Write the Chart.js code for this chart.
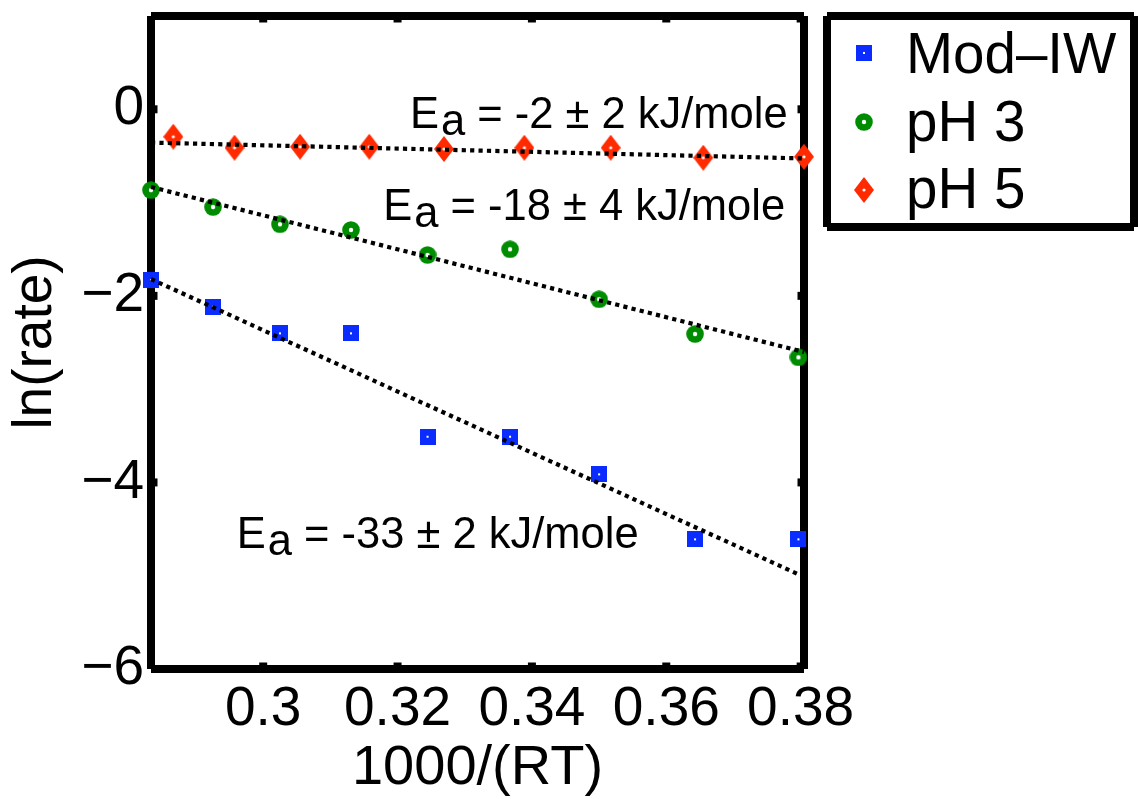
<!DOCTYPE html>
<html>
<head>
<meta charset="utf-8">
<title>ln(rate) vs 1000/(RT)</title>
<script src="https://cdn.jsdelivr.net/npm/chart.js@4/dist/chart.umd.min.js"></script>
<style>
  html, body { margin: 0; padding: 0; background: #ffffff; }
  canvas { display: block; }
</style>
</head>
<body>
<canvas id="chart" width="1138" height="799"></canvas>
<script>
// ---- data ---------------------------------------------------------------
const seriesNames = ['Mod\u2013IW', 'pH 3', 'pH 5'];

// 1000/(RT) for the Mod-IW and pH 3 runs (same temperatures)
const sharedX = [0.2833, 0.29253, 0.30250, 0.31307, 0.32446, 0.33674, 0.35000, 0.36428, 0.37967];
const modIwY  = [-1.830, -2.116, -2.402, -2.402, -3.510, -3.510, -3.913, -4.610, -4.610];
const ph3Y    = [-0.866, -1.048, -1.233, -1.294, -1.562, -1.501, -2.037, -2.409, -2.659];

// 1000/(RT) for the pH 5 runs
const ph5X = [0.28662, 0.29573, 0.30548, 0.31579, 0.32691, 0.33887, 0.35173, 0.36551, 0.38050];
const ph5Y = [-0.294, -0.412, -0.401, -0.401, -0.426, -0.412, -0.412, -0.519, -0.509];

// least-squares fit lines, evaluated at the axis limits
const fitX      = [0.2833, 0.3805];
const fitModIwY = [-1.820, -5.012];
const fitPh3Y   = [-0.833, -2.602];
const fitPh5Y   = [-0.357, -0.527];

// activation energies (kJ/mole) for pH 5, pH 3, Mod-IW
const eaTexts = ['-2 \u00b1 2', '-18 \u00b1 4', '-33 \u00b1 2'];

const xTicks = [0.30, 0.32, 0.34, 0.36, 0.38];
const xTickLabels = ['0.3', '0.32', '0.34', '0.36', '0.38'];
const yTicks = [0, -2, -4, -6];
const yTickLabels = ['0', '\u22122', '\u22124', '\u22126'];

// ---- styling --------------------------------------------------------------
const FONT = '"Liberation Sans", Arial, Helvetica, sans-serif';
const BLUE = '#0b2cff';
const GREEN = '#008c00';
const RED = '#ff2a00';
const AXIS_LW = 8;

// where each Ea label starts (left edge, baseline), in data units
const eaPlacement = [
  { x: 0.32185, y: -0.204 },
  { x: 0.31788, y: -1.187 },
  { x: 0.29606, y: -4.706 }
];

function markerCanvas(kind, color) {
  const c = document.createElement('canvas');
  const g = c.getContext('2d');
  if (kind === 'square') {
    c.width = 16; c.height = 16;
    g.fillStyle = color; g.fillRect(0, 0, 16, 16);
    g.fillStyle = '#fff'; g.fillRect(7, 7, 2, 2);
  } else if (kind === 'circle') {
    c.width = 18; c.height = 18;
    g.fillStyle = color; g.beginPath(); g.arc(9, 9, 8.8, 0, Math.PI * 2); g.fill();
    g.fillStyle = '#fff'; g.beginPath(); g.arc(9, 9, 2.2, 0, Math.PI * 2); g.fill();
  } else {
    c.width = 20; c.height = 26;
    g.fillStyle = color; g.beginPath();
    g.moveTo(10, 0); g.lineTo(20, 13); g.lineTo(10, 26); g.lineTo(0, 13); g.closePath(); g.fill();
    g.fillStyle = '#fff'; g.beginPath(); g.arc(10, 13, 1.6, 0, Math.PI * 2); g.fill();
  }
  return c;
}
const markers = [markerCanvas('square', BLUE), markerCanvas('circle', GREEN), markerCanvas('diamond', RED)];

const toPoints = (xs, ys) => xs.map((x, i) => ({ x, y: ys[i] }));

function fitLine(ys) {
  return {
    type: 'line', data: toPoints(fitX, ys), order: 0,
    borderColor: '#000', borderWidth: 4.2, borderDash: [4.2, 4.2], borderCapStyle: 'butt',
    pointRadius: 0, pointHoverRadius: 0, fill: false, tension: 0, clip: false
  };
}
function scatter(i, xs, ys) {
  return {
    type: 'scatter', label: seriesNames[i], data: toPoints(xs, ys), order: 1,
    pointStyle: markers[i], pointRadius: 9, pointHoverRadius: 9, clip: false
  };
}

// frame with inward tick marks, drawn under the data
const framePlugin = {
  id: 'frame',
  beforeDatasetsDraw(chart) {
    const { ctx, chartArea: a, scales: { x, y } } = chart;
    ctx.save();
    ctx.strokeStyle = '#000';
    ctx.lineWidth = AXIS_LW;
    ctx.lineCap = 'butt';
    const seg = (x1, y1, x2, y2) => { ctx.beginPath(); ctx.moveTo(x1, y1); ctx.lineTo(x2, y2); ctx.stroke(); };
    seg(a.left, a.top, a.right, a.top);
    seg(a.left, a.bottom, a.right, a.bottom);
    seg(a.left, a.top, a.left, a.bottom);
    seg(a.right, a.top, a.right, a.bottom);
    const tl = 6.5;
    xTicks.forEach(v => {
      const px = x.getPixelForValue(v);
      seg(px, a.bottom, px, a.bottom - tl);
      seg(px, a.top, px, a.top + tl);
    });
    yTicks.forEach(v => {
      const py = y.getPixelForValue(v);
      seg(a.left, py, a.left + tl, py);
      seg(a.right, py, a.right - tl, py);
    });
    ctx.restore();
  }
};

// activation energy labels
const eaPlugin = {
  id: 'eaLabels',
  afterDatasetsDraw(chart) {
    const { ctx, scales: { x, y } } = chart;
    ctx.save();
    ctx.fillStyle = '#000';
    ctx.font = '43.5px ' + FONT;
    ctx.textBaseline = 'alphabetic';
    ctx.textAlign = 'left';
    eaTexts.forEach((t, i) => {
      let px = x.getPixelForValue(eaPlacement[i].x);
      const py = y.getPixelForValue(eaPlacement[i].y);
      ctx.fillText('E', px, py);
      px += ctx.measureText('E').width + 2;
      ctx.fillText('a', px, py + 7);
      px += ctx.measureText('a').width;
      ctx.fillText(' = ' + t + ' kJ/mole', px, py);
    });
    ctx.restore();
  }
};

// boxed legend to the right of the axes
const legendPlugin = {
  id: 'boxLegend',
  afterDraw(chart) {
    const { ctx } = chart;
    const box = { l: 827, t: 16, r: 1134, b: 227 };
    ctx.save();
    ctx.strokeStyle = '#000';
    ctx.lineWidth = AXIS_LW;
    ctx.lineCap = 'butt';
    const seg = (x1, y1, x2, y2) => { ctx.beginPath(); ctx.moveTo(x1, y1); ctx.lineTo(x2, y2); ctx.stroke(); };
    seg(box.l, box.t, box.r, box.t);
    seg(box.l, box.b, box.r, box.b);
    seg(box.l, box.t, box.l, box.b);
    seg(box.r, box.t, box.r, box.b);
    const rows = [53, 122, 190];
    const baselines = [73, 140.5, 208];
    ctx.fillStyle = '#000';
    ctx.font = '56.5px ' + FONT;
    ctx.textBaseline = 'alphabetic';
    seriesNames.forEach((name, i) => {
      const m = markers[i];
      ctx.drawImage(m, Math.round(864 - m.width / 2), Math.round(rows[i] - m.height / 2));
      ctx.fillText(name, 906, baselines[i]);
    });
    ctx.restore();
  }
};

const tickFont = { family: FONT, size: 55 };

new Chart(document.getElementById('chart'), {
  data: {
    datasets: [
      fitLine(fitModIwY),
      fitLine(fitPh3Y),
      fitLine(fitPh5Y),
      scatter(0, sharedX, modIwY),
      scatter(1, sharedX, ph3Y),
      scatter(2, ph5X, ph5Y)
    ]
  },
  options: {
    responsive: false,
    animation: false,
    events: [],
    layout: { padding: { top: 16, right: 334, bottom: 0, left: 0 } },
    plugins: { legend: { display: false }, tooltip: { enabled: false } },
    scales: {
      x: {
        type: 'linear',
        min: fitX[0],
        max: fitX[1],
        afterBuildTicks: s => { s.ticks = xTicks.map(v => ({ value: v })); },
        afterFit: s => { s.height = 130; s.paddingLeft = 0; s.paddingRight = 0; s.paddingTop = 0; s.paddingBottom = 0; },
        grid: { display: false, drawTicks: false },
        border: { display: false },
        ticks: {
          autoSkip: false, maxRotation: 0, minRotation: 0,
          color: '#000', font: tickFont, padding: 8,
          callback: (v, i) => xTickLabels[i]
        },
        title: {
          display: true, text: '1000/(RT)', color: '#000',
          font: { family: FONT, size: 56, lineHeight: 1 },
          padding: { top: 0, bottom: 2.5 }
        }
      },
      y: {
        type: 'linear',
        min: -6,
        max: 1,
        afterBuildTicks: s => { s.ticks = yTicks.map(v => ({ value: v })); },
        afterFit: s => { s.width = 151; s.paddingLeft = 0; s.paddingRight = 0; s.paddingTop = 0; s.paddingBottom = 0; },
        grid: { display: false, drawTicks: false },
        border: { display: false },
        ticks: {
          autoSkip: false,
          color: '#000', font: tickFont, padding: 7,
          callback: (v, i) => yTickLabels[i]
        },
        title: {
          display: true, text: 'ln(rate)', color: '#000',
          font: { family: FONT, size: 55, lineHeight: 1 },
          padding: { top: 8.5, bottom: 0 }
        }
      }
    }
  },
  plugins: [framePlugin, eaPlugin, legendPlugin]
});
</script>
</body>
</html>
